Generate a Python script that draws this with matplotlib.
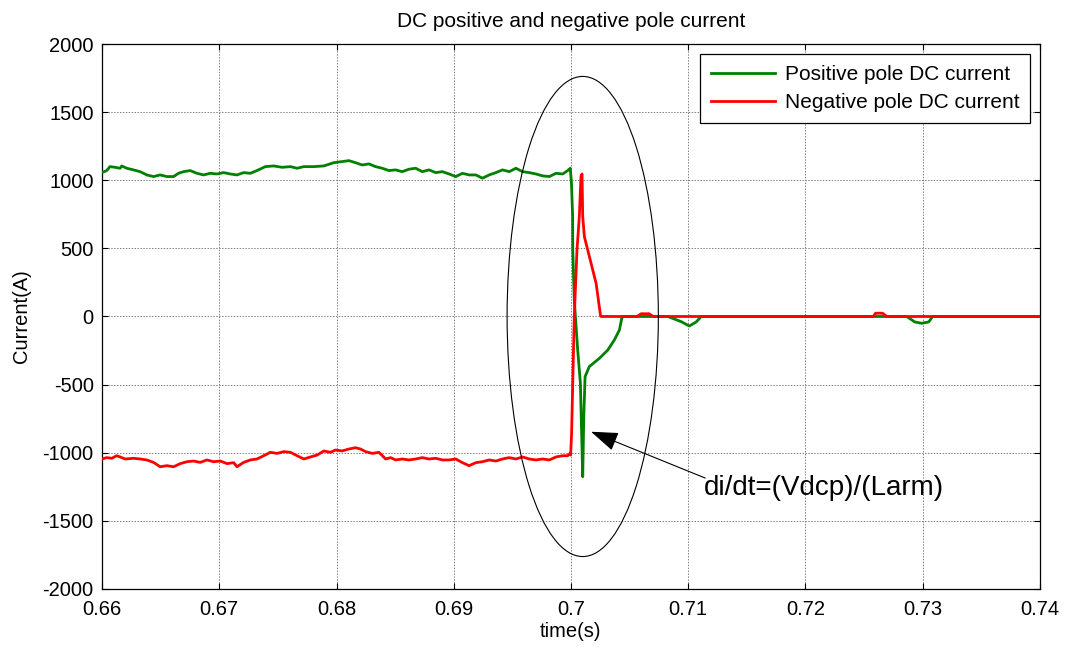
import numpy as np
import matplotlib
matplotlib.use("Agg")
import matplotlib.pyplot as plt
from matplotlib.patches import Ellipse

plt.rcParams['font.family'] = ['Liberation Sans', 'DejaVu Sans']
plt.rcParams['axes.unicode_minus'] = False

# ---------------- data ----------------
pos_t = [0.66000, 0.66040, 0.66068, 0.66111, 0.66154, 0.66168, 0.66211, 0.66268, 0.66325,
         0.66382, 0.66439, 0.66496, 0.66553, 0.66610, 0.66652, 0.66695, 0.66752, 0.66809,
         0.66866, 0.66923, 0.66980, 0.67037, 0.67094, 0.67151, 0.67208, 0.67265, 0.67322,
         0.67393, 0.67464, 0.67536, 0.67607, 0.67664, 0.67721, 0.67806, 0.67892, 0.67977,
         0.68048, 0.68105, 0.68162, 0.68219, 0.68276, 0.68333, 0.68390, 0.68447, 0.68504,
         0.68561, 0.68618, 0.68675, 0.68732, 0.68789, 0.68846, 0.68903, 0.68960, 0.69017,
         0.69074, 0.69131, 0.69188, 0.69245, 0.69302, 0.69359, 0.69416, 0.69473, 0.69530,
         0.69587, 0.69644, 0.69701, 0.69758, 0.69815, 0.69872, 0.69929, 0.69972, 0.69994,
         0.70004, 0.70014, 0.70015, 0.70028, 0.70057, 0.70080, 0.70100, 0.70109, 0.70120,
         0.70156, 0.70242, 0.70314, 0.70370, 0.70413, 0.70433, 0.70444, 0.70826, 0.70940,
         0.71009, 0.71068, 0.71111, 0.72863, 0.72932, 0.72991, 0.73051, 0.73085, 0.74000]
pos_i = [1056, 1071, 1100, 1095, 1088, 1105, 1088, 1076, 1063,
         1039, 1027, 1039, 1027, 1027, 1051, 1063, 1071, 1051,
         1039, 1051, 1046, 1056, 1046, 1039, 1056, 1051, 1071,
         1100, 1105, 1095, 1100, 1088, 1100, 1100, 1105, 1129,
         1137, 1144, 1129, 1112, 1120, 1100, 1088, 1071, 1076,
         1063, 1081, 1088, 1063, 1076, 1056, 1063, 1046, 1027,
         1051, 1039, 1039, 1015, 1039, 1056, 1076, 1063, 1088,
         1063, 1056, 1046, 1032, 1027, 1051, 1046, 1071, 1088,
         978, 733, 488, 121, -246, -488, -1176, -735, -442,
         -368, -307, -246, -172, -99, -13, 0, 0, -38,
         -70, -40, 0, 0, -40, -50, -40, 0, 0]

neg_t = [0.66000, 0.66040, 0.66083, 0.66125, 0.66154, 0.66197, 0.66268, 0.66325, 0.66382,
         0.66439, 0.66496, 0.66553, 0.66610, 0.66667, 0.66724, 0.66781, 0.66838, 0.66895,
         0.66952, 0.67009, 0.67066, 0.67123, 0.67151, 0.67208, 0.67265, 0.67322, 0.67379,
         0.67436, 0.67493, 0.67550, 0.67607, 0.67664, 0.67721, 0.67778, 0.67835, 0.67892,
         0.67949, 0.67991, 0.68048, 0.68105, 0.68162, 0.68205, 0.68248, 0.68305, 0.68362,
         0.68419, 0.68462, 0.68504, 0.68561, 0.68618, 0.68675, 0.68732, 0.68789, 0.68846,
         0.68903, 0.68960, 0.69017, 0.69074, 0.69131, 0.69188, 0.69245, 0.69302, 0.69359,
         0.69416, 0.69473, 0.69530, 0.69587, 0.69644, 0.69701, 0.69758, 0.69815, 0.69872,
         0.69929, 0.69972, 0.69992, 0.69997, 0.70005, 0.70028, 0.70051, 0.70071, 0.70085,
         0.70094, 0.70100, 0.70114, 0.70171, 0.70214, 0.70251, 0.70256, 0.70564, 0.70598,
         0.70667, 0.70701, 0.72578, 0.72598, 0.72658, 0.72692, 0.74000]
neg_i = [-1046, -1036, -1041, -1022, -1031, -1046, -1041, -1046, -1053,
         -1071, -1103, -1095, -1103, -1080, -1066, -1061, -1071, -1053,
         -1066, -1061, -1080, -1073, -1103, -1071, -1053, -1046, -1022,
         -997, -1005, -992, -997, -1022, -1046, -1031, -1017, -987,
         -997, -980, -987, -973, -963, -973, -992, -1005, -997,
         -1046, -1036, -1053, -1046, -1053, -1046, -1036, -1046, -1041,
         -1053, -1053, -1046, -1073, -1095, -1073, -1066, -1053, -1061,
         -1046, -1036, -1046, -1031, -1046, -1053, -1046, -1053, -1031,
         -1022, -1022, -1005, -1017, -858, 0, 488, 733, 1027,
         1046, 733, 586, 391, 244, 11, 0, 0, 20,
         20, 0, 0, 24, 24, 0, 0]

x_ticks = [0.66, 0.67, 0.68, 0.69, 0.70, 0.71, 0.72, 0.73, 0.74]
x_labels = ['0.66', '0.67', '0.68', '0.69', '0.7', '0.71', '0.72', '0.73', '0.74']
y_ticks = [-2000, -1500, -1000, -500, 0, 500, 1000, 1500, 2000]

ellipse_center = (0.7010, 0)
ellipse_w, ellipse_h = 0.0129, 3524
arrow_head = (0.70171, -846)
arrow_tail = (0.71145, -1186)
note_pos = (0.71137, -1262)

# ---------------- figure ----------------
fig = plt.figure(figsize=(10.65, 6.49), dpi=100)
ax = fig.add_axes([0.0958, 0.0925, 0.9765 - 0.0958, 0.9322 - 0.0925])

ax.plot(pos_t, pos_i, color='#008000', lw=2.0, label='Positive pole DC current', zorder=3)
ax.plot(neg_t, neg_i, color='#ff0000', lw=2.0, label='Negative pole DC current', zorder=4)

ax.add_patch(Ellipse(ellipse_center, ellipse_w, ellipse_h, fill=False,
                     edgecolor='black', lw=0.8, zorder=5))
ax.annotate('', xy=arrow_head, xytext=arrow_tail,
            arrowprops=dict(arrowstyle='-|>,head_length=0.85,head_width=0.3',
                            color='black', lw=0.8, shrinkA=0, shrinkB=0,
                            mutation_scale=20), zorder=6)
ax.text(note_pos[0], note_pos[1], 'di/dt=(Vdcp)/(Larm)', fontsize=20,
        ha='left', va='center', zorder=6)

ax.set_xlim(0.66, 0.74)
ax.set_ylim(-2000, 2000)
ax.set_xticks(x_ticks)
ax.set_xticklabels(x_labels)
ax.set_yticks(y_ticks)
ax.tick_params(direction='in', top=True, right=True, length=4, width=0.8,
               labelsize=14.5)
ax.tick_params(axis='x', pad=8)
ax.tick_params(axis='y', pad=6)
ax.grid(True, color='#808080', linestyle=(0, (1.5, 1.5)), lw=0.7)
for s in ax.spines.values():
    s.set_linewidth(0.9)

ax.set_title('DC positive and negative pole current', fontsize=15, pad=12)
ax.set_xlabel('time(s)', fontsize=14.5, labelpad=2)
ax.set_ylabel('Current(A)', fontsize=14.5, labelpad=8)

leg = ax.legend(loc='upper right', fontsize=15, frameon=True, fancybox=False,
                edgecolor='black', framealpha=1, borderaxespad=0.5,
                handlelength=3.1, handletextpad=0.45, labelspacing=0.45,
                borderpad=0.5)
leg.get_frame().set_linewidth(0.9)

fig.savefig('out.png', dpi=100)
